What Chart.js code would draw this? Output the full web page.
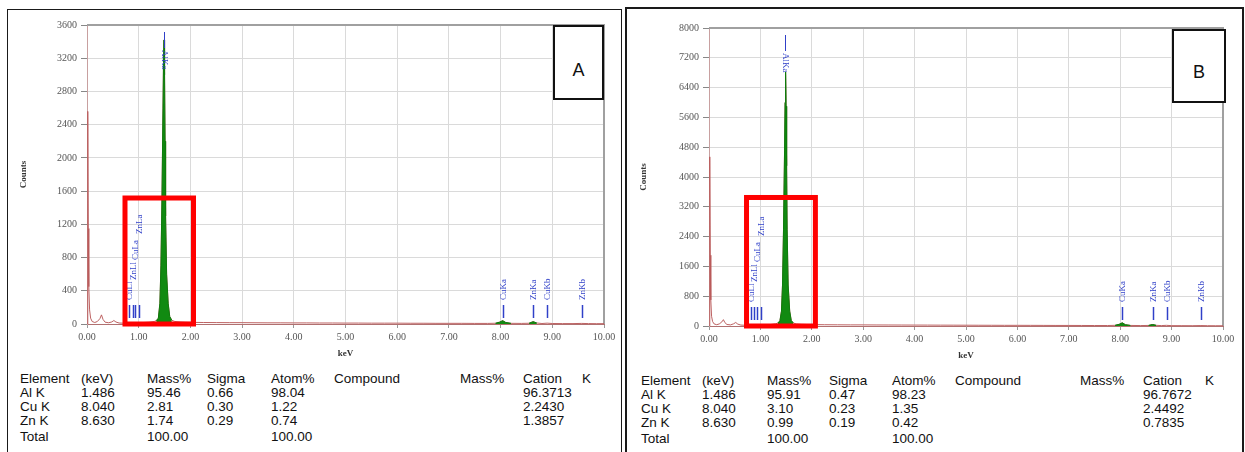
<!DOCTYPE html>
<html><head><meta charset="utf-8">
<script src="https://cdn.jsdelivr.net/npm/chart.js@4.4.1/dist/chart.umd.min.js"></script>
<style>
html,body{margin:0;padding:0;background:#fff;}
body{position:relative;width:1245px;height:452px;overflow:hidden;font-family:"Liberation Sans",Arial,sans-serif;}
.frame{position:absolute;box-sizing:border-box;border-style:solid;border-color:#1a1a1a;border-bottom:none;}
canvas{position:absolute;}
.tag{position:absolute;box-sizing:border-box;border:2px solid #111;background:#fff;z-index:5;}
.tag span{position:absolute;left:0;right:0;text-align:center;font-size:18px;line-height:18px;color:#111;}
.cell{position:absolute;white-space:nowrap;font-size:13.5px;line-height:14px;color:#111;}
</style></head><body>
<div class="frame" style="left:7px;top:9px;width:615px;height:460px;border-width:1px;"></div>
<div class="frame" style="left:625px;top:7px;width:619px;height:460px;border-width:2px;"></div>
<canvas id="cA" width="612" height="350" style="left:8px;top:10px;"></canvas>
<canvas id="cB" width="613" height="352" style="left:628px;top:10px;"></canvas>
<div class="tag" style="left:553px;top:25px;width:51px;height:75px;"><span style="top:34px">A</span></div>
<div class="tag" style="left:1172px;top:29px;width:54px;height:74px;"><span style="top:32px">B</span></div>
<div id="tables"></div>
<script>
// ---------- spectrum data ----------
const energyKeV = [0.000,0.015,0.025,0.035,0.05,0.07,0.10,0.15,0.20,0.25,0.28,0.31,0.35,0.42,0.48,0.52,0.56,0.62,0.70,0.80,
  0.90,1.00,1.10,1.20,1.30,1.34,1.38,1.41,1.43,1.45,1.47,1.48,1.49,1.50,1.51,1.52,1.54,1.57,1.60,1.64,
  1.70,1.80,1.90,2.00,2.25,2.50,2.75,3.00,3.25,3.50,3.75,4.00,4.25,4.50,4.75,5.00,5.25,5.50,5.75,6.00,
  6.25,6.50,6.75,7.00,7.25,7.50,7.75,7.90,7.98,8.04,8.10,8.20,8.40,8.55,8.63,8.70,8.80,8.90,9.00,9.20,
  9.40,9.57,9.70,9.85,10.00];
const countsA = [0,2560,1150,450,170,70,30,18,30,65,110,55,22,15,25,42,24,12,10,12,
  14,16,18,22,30,40,70,250,700,1500,2600,3150,3420,3000,2200,1300,600,250,90,45,
  30,25,22,20,18,17,16,16,15,14,14,13,13,12,12,11,11,10,10,10,
  9,9,8,8,8,7,7,9,22,40,18,8,7,9,28,12,6,10,6,5,
  5,7,5,4,4];
const countsB = [0,4540,1900,700,260,120,55,35,55,110,170,90,40,30,60,95,50,25,20,22,
  26,30,34,40,60,80,140,400,1100,2600,4700,6000,6820,5900,4300,2600,1100,400,150,80,
  55,45,40,38,34,32,30,30,28,27,26,25,24,23,22,21,20,19,18,18,
  17,16,15,15,14,13,13,18,45,85,35,15,12,15,40,18,11,18,10,9,
  8,12,8,7,7];
// identified peak windows (filled green)
const peakWindowsKeV = [[1.34,1.64],[7.90,8.20],[8.55,8.70]];

// ---------- axes ----------
const xTicksKeV = [0,1,2,3,4,5,6,7,8,9,10];
const yTicksA = [0,400,800,1200,1600,2000,2400,2800,3200,3600];
const yTicksB = [0,800,1600,2400,3200,4000,4800,5600,6400,7200,8000];

// ---------- peak markers ----------
const markerEnergies = [1.486,0.811,0.884,0.930,1.012,8.040,8.630,8.904,9.570];
const markerLabels   = ['AlKa','CuLl','ZnLl','CuLa','ZnLa','CuKa','ZnKa','CuKb','ZnKb'];

// ---------- quantification tables ----------
const tableHeader = ['Element','(keV)','Mass%','Sigma','Atom%','Compound','Mass%','Cation','K'];
const elements = ['Al K','Cu K','Zn K'];
const lineKeV = ['1.486','8.040','8.630'];
const massA = ['95.46','2.81','1.74'], sigmaA = ['0.66','0.30','0.29'], atomA = ['98.04','1.22','0.74'], cationA = ['96.3713','2.2430','1.3857'];
const massB = ['95.91','3.10','0.99'], sigmaB = ['0.47','0.23','0.19'], atomB = ['98.23','1.35','0.42'], cationB = ['96.7672','2.4492','0.7835'];
const totals = ['100.00','100.00'];

// ---------- marker styling (pixel offsets) ----------
const markerStyle = [
  {at:'top', line:[7,23], text:25},
  {at:'base', line:[6,19], text:24},
  {at:'base', line:[6,19], text:44},
  {at:'base', line:[6,19], text:64},
  {at:'base', line:[6,19], text:90},
  {at:'base', line:[6,19], text:24},
  {at:'base', line:[6,19], text:24},
  {at:'base', line:[6,19], text:24},
  {at:'base', line:[6,19], text:24}
];

const edsPlugin = {
  id:'eds',
  beforeDatasetsDraw(chart){
    const {ctx, chartArea:a} = chart;
    ctx.save();
    ctx.strokeStyle='#a0a0a0'; ctx.lineWidth=2;
    ctx.beginPath(); ctx.moveTo(a.left,a.top); ctx.lineTo(a.right,a.top); ctx.lineTo(a.right,a.bottom); ctx.stroke();
    ctx.restore();
  },
  afterDatasetsDraw(chart, args, opts){
    const {ctx, chartArea:a, scales:{x,y}} = chart;
    ctx.save();
    ctx.strokeStyle='#3040c8'; ctx.fillStyle='#3040c8';
    ctx.font='9px "Liberation Serif", serif';
    ctx.textBaseline='middle';
    markerEnergies.forEach((e,i)=>{
      const st = markerStyle[i];
      const px = Math.round(x.getPixelForValue(e))+0.5;
      ctx.lineWidth = st.at==='top' ? 1 : 1.5;
      ctx.beginPath();
      if (st.at==='top'){
        ctx.moveTo(px, a.top+st.line[0]); ctx.lineTo(px, a.top+st.line[1]); ctx.stroke();
        ctx.save(); ctx.translate(px, a.top+st.text); ctx.rotate(Math.PI/2);
        ctx.textAlign='left'; ctx.fillText(markerLabels[i],0,0); ctx.restore();
      } else {
        ctx.moveTo(px, a.bottom-st.line[0]); ctx.lineTo(px, a.bottom-st.line[1]); ctx.stroke();
        ctx.save(); ctx.translate(px, a.bottom-st.text); ctx.rotate(-Math.PI/2);
        ctx.textAlign='left'; ctx.fillText(markerLabels[i],0,0); ctx.restore();
      }
    });
    const r = opts.redBox;
    const l = x.getPixelForValue(r.x0), rr = x.getPixelForValue(r.x1);
    const t = y.getPixelForValue(r.y1), b = y.getPixelForValue(r.y0);
    ctx.strokeStyle='#ff0000'; ctx.lineWidth=5;
    ctx.strokeRect(l,t,rr-l,b-t);
    ctx.restore();
  }
};

function points(counts){ return energyKeV.map((e,i)=>({x:e,y:counts[i]})); }
function peakPoints(counts, w){ return energyKeV.map((e,i)=>({x:e,y:counts[i]})).filter(p=>p.x>=w[0]&&p.x<=w[1]); }

function makeChart(id, counts, yTicks, yWidth, redBox){
  const green = peakWindowsKeV.map(w=>({
    data: peakPoints(counts,w), borderColor:'#0b7d0b', backgroundColor:'#118a11',
    borderWidth:1, fill:'origin', pointRadius:0, tension:0, order:0
  }));
  const red = {data: points(counts), borderColor:'rgba(185,90,90,0.95)', borderWidth:1, fill:false, pointRadius:0, tension:0, order:1};
  return new Chart(document.getElementById(id), {
    type:'line',
    data:{datasets:[...green, red]},
    options:{
      responsive:false, animation:false, events:[],
      layout:{padding:{left:0, right: id==='cA'?16:18, top: id==='cA'?15:18, bottom:0}},
      plugins:{legend:{display:false}, tooltip:{enabled:false}, eds:{redBox}},
      scales:{
        x:{type:'linear', min:0, max:10,
          afterBuildTicks(s){ s.ticks = xTicksKeV.map(v=>({value:v})); },
          afterFit(s){ s.height = 36; },
          ticks:{callback:v=>Number(v).toFixed(2), maxRotation:0, autoSkip:false, padding:3,
            color:'#555', font:{family:'"Liberation Serif", serif', size:10}},
          grid:{color:'#dadada', lineWidth:1, tickLength:4, tickColor:'#999'},
          border:{color:'#b07070', width:1},
          title:{display:true, text:'keV', color:'#333', padding:{top:0,bottom:1},
            font:{family:'"Liberation Serif", serif', size:9, weight:'bold'}}
        },
        y:{type:'linear', min:0, max:yTicks[yTicks.length-1],
          afterBuildTicks(s){ s.ticks = yTicks.map(v=>({value:v})); },
          afterFit(s){ s.width = yWidth; },
          ticks:{callback:v=>String(v), padding:4, color:'#555',
            font:{family:'"Liberation Serif", serif', size:10}},
          grid:{color:'#dadada', lineWidth:1, tickLength:6, tickColor:'#888'},
          border:{color:'#c8a0a0', width:1},
          title:{display:true, text:'Counts', color:'#333', padding:{top:10,bottom:0},
            font:{family:'"Liberation Serif", serif', size:9, weight:'bold'}}
        }
      }
    },
    plugins:[edsPlugin]
  });
}

makeChart('cA', countsA, yTicksA, 79, {x0:0.735, x1:2.06, y0:0, y1:1517});
makeChart('cB', countsB, yTicksB, 81, {x0:0.73, x1:2.07, y0:0, y1:3450});

// ---------- tables ----------
function buildTable(cols, rowsY, mass, sigma, atom, cation){
  const host = document.getElementById('tables');
  const put = (txt,x,yc)=>{ const s=document.createElement('span'); s.className='cell'; s.textContent=txt; s.style.left=x+'px'; s.style.top=(yc-7)+'px'; host.appendChild(s); };
  tableHeader.forEach((h,i)=>put(h, cols[i], rowsY[0]));
  elements.forEach((el,r)=>{
    const y = rowsY[r+1];
    put(el, cols[0], y); put(lineKeV[r], cols[1], y); put(mass[r], cols[2], y);
    put(sigma[r], cols[3], y); put(atom[r], cols[4], y); put(cation[r], cols[7], y);
  });
  put('Total', cols[0], rowsY[4]); put(totals[0], cols[2], rowsY[4]); put(totals[1], cols[4], rowsY[4]);
}
buildTable([20,81,147,207,271,334,460,523,582],[379,393,407,421,437], massA, sigmaA, atomA, cationA);
buildTable([641,702,767,829,892,955,1080,1143,1205],[381,395,409,423,439], massB, sigmaB, atomB, cationB);
</script>
</body></html>
